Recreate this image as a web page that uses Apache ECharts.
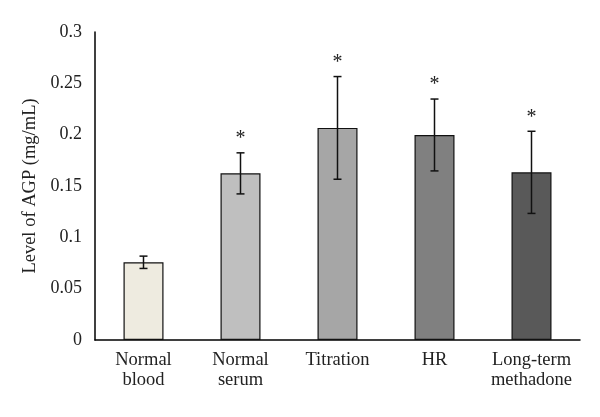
<!DOCTYPE html>
<html><head><meta charset="utf-8">
<script src="https://cdn.jsdelivr.net/npm/echarts@6/dist/echarts.min.js"></script>
<style>html,body{margin:0;padding:0;background:#fff}#c{width:600px;height:417px}</style>
</head><body><div id="c"></div>
<script>
const categories = ['Normal\nblood', 'Normal\nserum', 'Titration', 'HR', 'Long-term\nmethadone'];
const values = [0.0757, 0.1623, 0.2066, 0.1997, 0.1633];
const errors = [0.006, 0.020, 0.050, 0.035, 0.040];
const significant = [false, true, true, true, true];
const barColors = ['#EEEBE0', '#BFBFBF', '#A6A6A6', '#808080', '#595959'];
const yTicks = [0, 0.05, 0.1, 0.15, 0.2, 0.25, 0.3];

const font = '"Liberation Serif", "DejaVu Serif", serif';
const chart = echarts.init(document.getElementById('c'));
chart.setOption({
  animation: false,
  grid: { left: 95, right: 20, top: 32, bottom: 77 },
  xAxis: {
    type: 'category', data: categories,
    axisLine: { lineStyle: { color: '#000', width: 1.5 } },
    axisTick: { show: false },
    axisLabel: { color: '#222', fontFamily: font, fontSize: 18.5, lineHeight: 20, margin: 10, interval: 0 }
  },
  yAxis: {
    type: 'value', min: 0, max: 0.3, interval: 0.05,
    name: 'Level of AGP (mg/mL)', nameLocation: 'middle', nameGap: 53,
    nameTextStyle: { color: '#222', fontFamily: font, fontSize: 18.5 },
    axisLine: { show: true, lineStyle: { color: '#000', width: 1.5 } },
    axisTick: { show: false },
    splitLine: { show: false },
    axisLabel: { color: '#222', fontFamily: font, fontSize: 18, margin: 13,
      formatter: v => { const t = yTicks.find(x => Math.abs(x - v) < 1e-9); return String(+(t ?? v).toFixed(2)); } }
  },
  series: [{
    type: 'bar', barWidth: 40,
    data: values.map((v, i) => ({ value: v, itemStyle: { color: barColors[i] } })),
    itemStyle: { borderColor: '#111', borderWidth: 1.2 }
  }, {
    type: 'custom',
    data: values.map((v, i) => [i, v - errors[i], v + errors[i], significant[i] ? 1 : 0]),
    renderItem: (params, api) => {
      const x = api.value(0);
      const lo = api.coord([x, api.value(1)]);
      const hi = api.coord([x, api.value(2)]);
      const w = 4;
      const st = { stroke: '#111', lineWidth: 1.5 };
      const children = [
        { type: 'line', shape: { x1: hi[0], y1: hi[1], x2: lo[0], y2: lo[1] }, style: st },
        { type: 'line', shape: { x1: hi[0] - w, y1: hi[1], x2: hi[0] + w, y2: hi[1] }, style: st },
        { type: 'line', shape: { x1: lo[0] - w, y1: lo[1], x2: lo[0] + w, y2: lo[1] }, style: st }
      ];
      if (api.value(3)) {
        children.push({ type: 'text', style: { text: '*', x: hi[0], y: hi[1] - 4, textAlign: 'center', textVerticalAlign: 'bottom', fontFamily: font, fontSize: 20, fill: '#222' } });
      }
      return { type: 'group', children };
    },
    z: 5
  }]
});
</script></body></html>
